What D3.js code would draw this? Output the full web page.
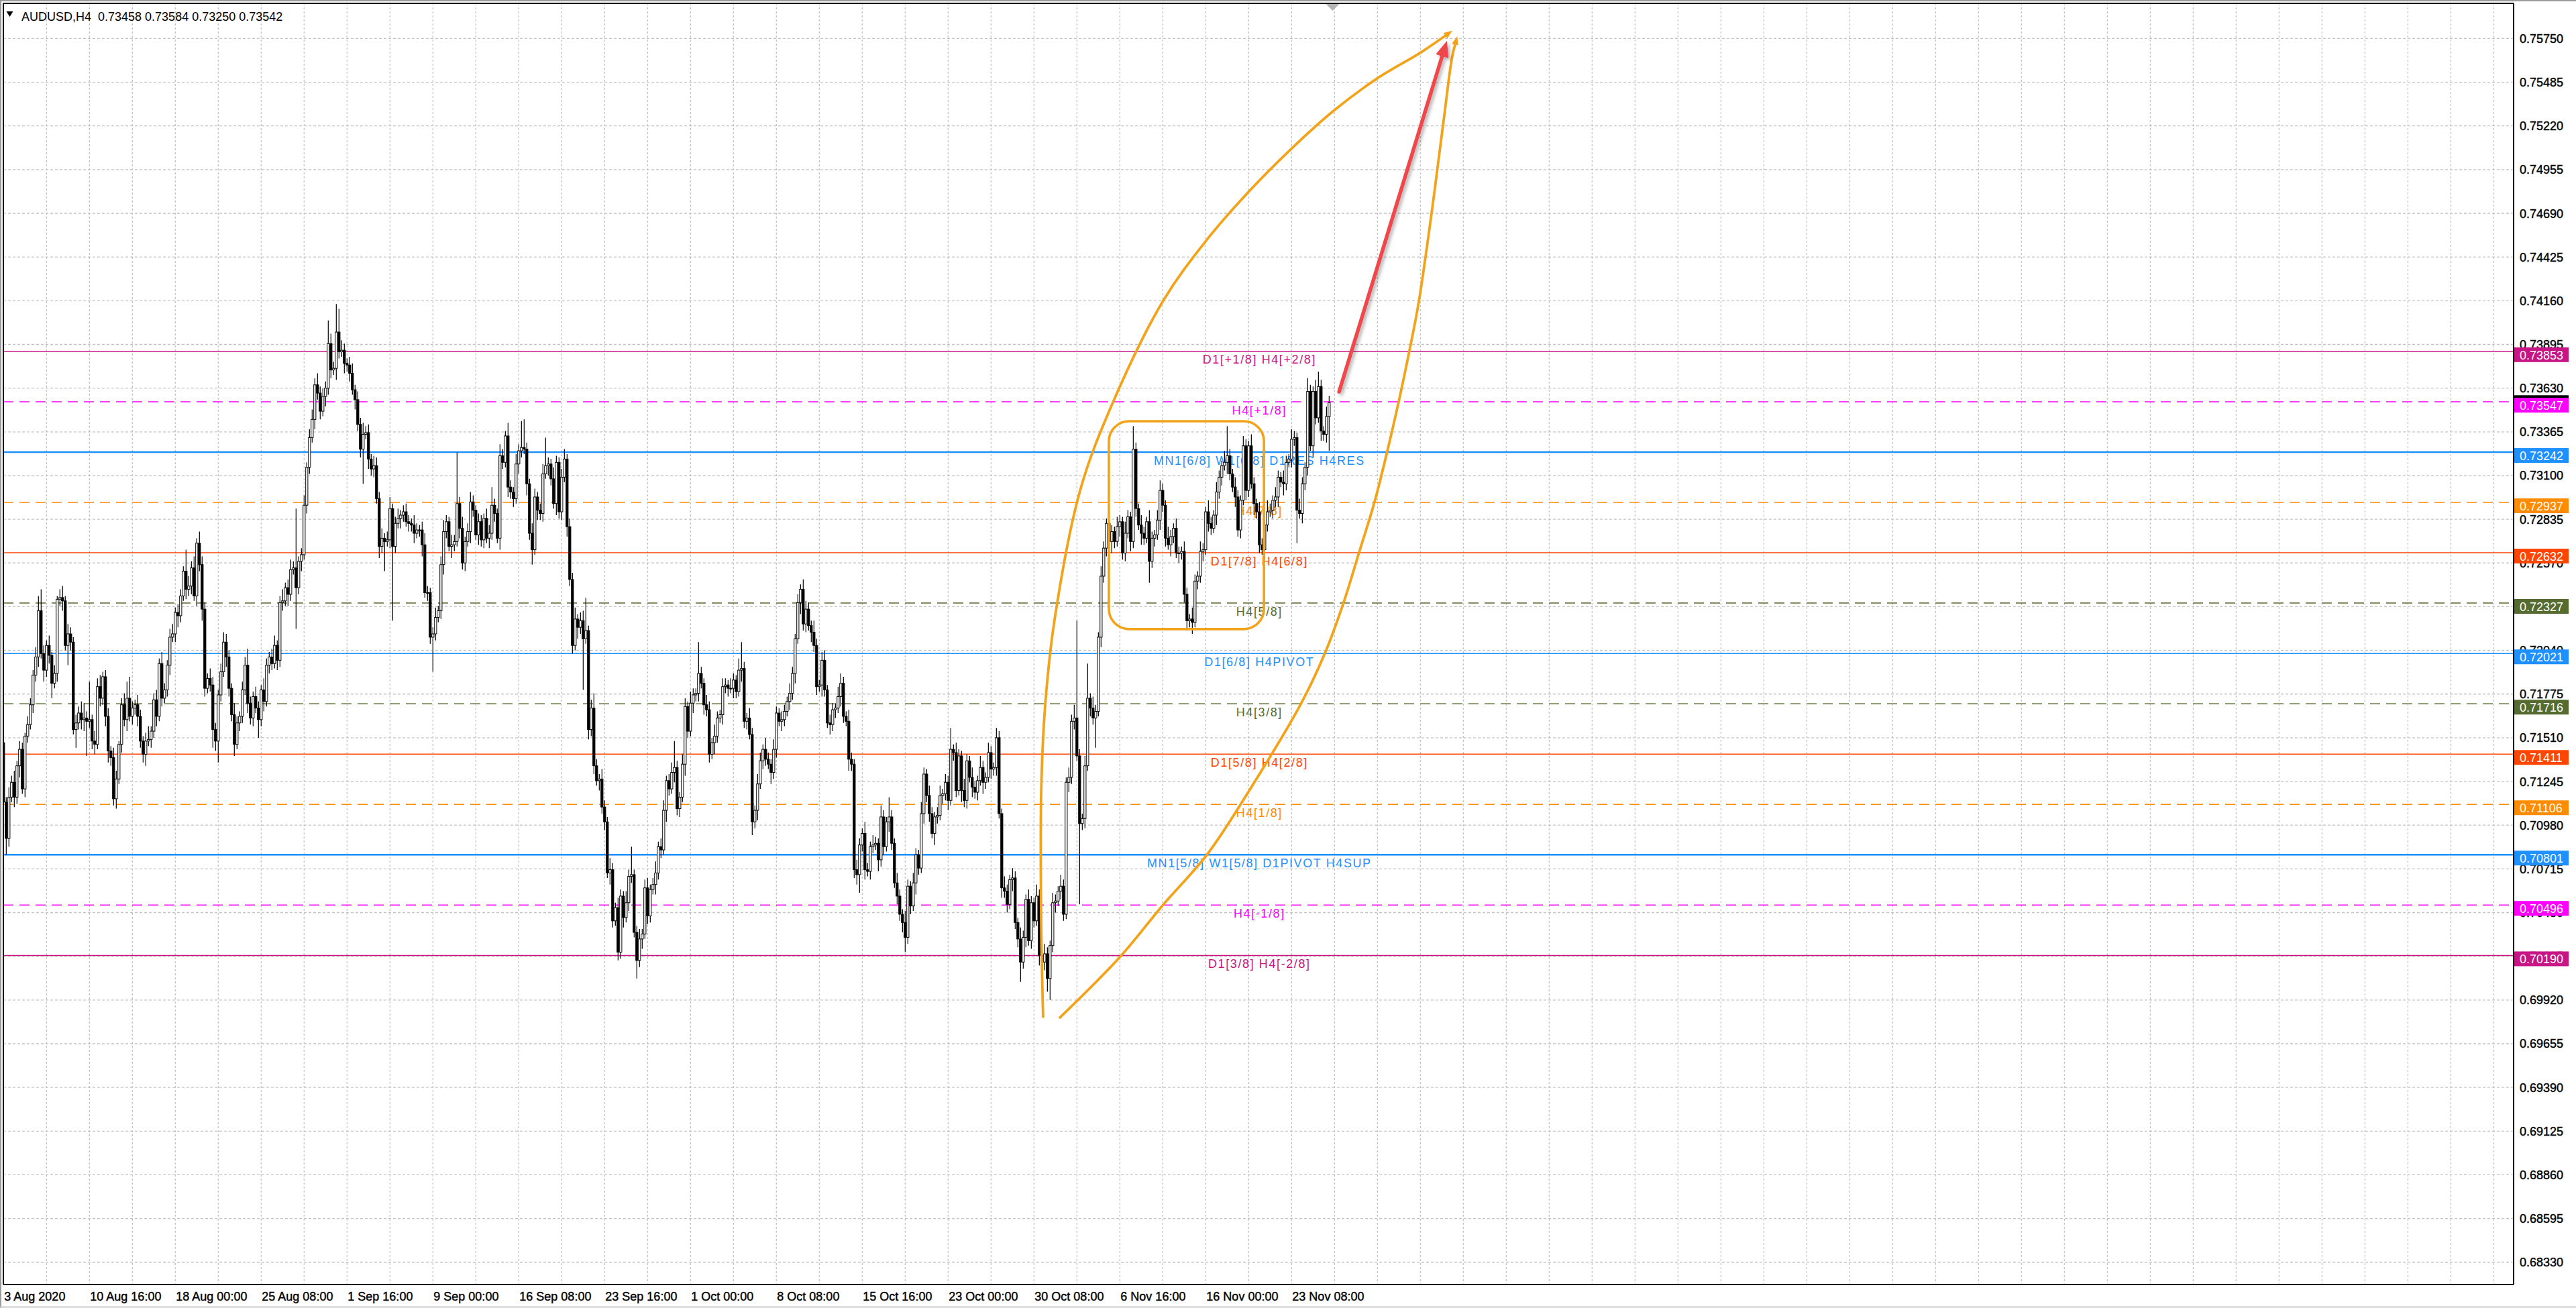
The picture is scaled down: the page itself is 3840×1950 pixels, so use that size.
<!DOCTYPE html>
<html>
<head>
<meta charset="utf-8">
<script src="https://cdnjs.cloudflare.com/ajax/libs/d3/7.8.5/d3.min.js"></script>
<style>
html,body{margin:0;padding:0;background:#fff;overflow:hidden}
svg{display:block}
text{font-family:"Liberation Sans",Arial,sans-serif}
</style>
</head>
<body>
<svg id="chart"></svg>
<script>
const W = 3840, H = 1950
const plot = {left:5, top:5, right:3747, bottom:1915}

const symbol = 'AUDUSD,H4'
const lastOHLC = ['0.73458','0.73584','0.73250','0.73542']

// H4 bars, 3 Aug 08:00 .. 25 Nov 16:00 ; open of a bar = previous close
const firstOpen = 0.7148
const close = [
	0.7112,0.7090,0.7115,0.7124,0.7115,0.7134,0.7144,0.7120,0.7152,0.7159,
	0.7171,0.7189,0.7200,0.7228,0.7202,0.7192,0.7207,0.7201,0.7184,0.7190,
	0.7235,0.7236,0.7234,0.7207,0.7214,0.7209,0.7156,0.7160,0.7166,0.7162,
	0.7163,0.7161,0.7162,0.7149,0.7147,0.7182,0.7175,0.7188,0.7164,0.7143,
	0.7139,0.7114,0.7126,0.7147,0.7171,0.7162,0.7175,0.7164,0.7169,0.7171,
	0.7164,0.7149,0.7141,0.7149,0.7150,0.7155,0.7174,0.7164,0.7196,0.7175,
	0.7180,0.7195,0.7212,0.7214,0.7227,0.7225,0.7237,0.7252,0.7241,0.7243,
	0.7254,0.7237,0.7269,0.7256,0.7229,0.7181,0.7187,0.7183,0.7156,0.7149,
	0.7177,0.7191,0.7209,0.7200,0.7181,0.7165,0.7147,0.7160,0.7164,0.7180,
	0.7195,0.7172,0.7163,0.7176,0.7169,0.7162,0.7180,0.7173,0.7195,0.7200,
	0.7196,0.7207,0.7198,0.7233,0.7234,0.7242,0.7238,0.7253,0.7254,0.7242,
	0.7258,0.7262,0.7292,0.7315,0.7333,0.7344,0.7365,0.7360,0.7349,0.7358,
	0.7363,0.7390,0.7374,0.7375,0.7397,0.7385,0.7386,0.7378,0.7377,0.7372,
	0.7362,0.7356,0.7341,0.7326,0.7335,0.7336,0.7320,0.7314,0.7316,0.7296,
	0.7267,0.7272,0.7270,0.7271,0.7290,0.7267,0.7281,0.7284,0.7286,0.7288,
	0.7282,0.7281,0.7280,0.7275,0.7277,0.7277,0.7268,0.7239,0.7239,0.7212,
	0.7214,0.7224,0.7228,0.7256,0.7276,0.7282,0.7267,0.7268,0.7270,0.7293,
	0.7278,0.7257,0.7270,0.7276,0.7294,0.7289,0.7274,0.7282,0.7271,0.7284,
	0.7272,0.7275,0.7292,0.7287,0.7272,0.7322,0.7318,0.7334,0.7303,0.7300,
	0.7296,0.7317,0.7325,0.7327,0.7326,0.7305,0.7275,0.7265,0.7297,0.7289,
	0.7287,0.7311,0.7316,0.7317,0.7308,0.7293,0.7318,0.7288,0.7309,0.7320,
	0.7279,0.7247,0.7207,0.7223,0.7218,0.7222,0.7211,0.7216,0.7156,0.7169,
	0.7134,0.7125,0.7126,0.7109,0.7100,0.7069,0.7071,0.7040,0.7048,0.7021,
	0.7055,0.7042,0.7051,0.7067,0.7068,0.7033,0.7016,0.7029,0.7032,0.7060,
	0.7043,0.7059,0.7062,0.7069,0.7085,0.7083,0.7107,0.7125,0.7120,0.7130,
	0.7133,0.7108,0.7115,0.7135,0.7170,0.7155,0.7172,0.7177,0.7178,0.7190,
	0.7184,0.7171,0.7168,0.7141,0.7148,0.7152,0.7163,0.7165,0.7182,0.7183,
	0.7181,0.7181,0.7186,0.7179,0.7192,0.7193,0.7161,0.7163,0.7153,0.7100,
	0.7107,0.7123,0.7137,0.7144,0.7138,0.7135,0.7130,0.7144,0.7166,0.7161,
	0.7162,0.7167,0.7173,0.7178,0.7190,0.7211,0.7233,0.7241,0.7220,0.7229,
	0.7219,0.7215,0.7207,0.7182,0.7183,0.7198,0.7180,0.7160,0.7159,0.7168,
	0.7169,0.7176,0.7184,0.7164,0.7161,0.7138,0.7135,0.7071,0.7068,0.7086,
	0.7093,0.7071,0.7070,0.7085,0.7086,0.7087,0.7077,0.7103,0.7085,0.7100,
	0.7103,0.7087,0.7063,0.7055,0.7044,0.7039,0.7030,0.7061,0.7049,0.7063,
	0.7080,0.7072,0.7105,0.7129,0.7116,0.7105,0.7093,0.7103,0.7104,0.7116,
	0.7117,0.7124,0.7113,0.7144,0.7142,0.7119,0.7140,0.7119,0.7113,0.7137,
	0.7127,0.7121,0.7118,0.7125,0.7133,0.7124,0.7127,0.7142,0.7132,0.7133,
	0.7151,0.7105,0.7060,0.7058,0.7050,0.7065,0.7066,0.7039,0.7029,0.7015,
	0.7030,0.7053,0.7028,0.7051,0.7040,0.7055,0.7019,0.7015,0.7020,0.7005,
	0.7025,0.7051,0.7052,0.7058,0.7061,0.7044,0.7124,0.7127,0.7161,0.7163,
	0.7140,0.7099,0.7102,0.7134,0.7175,0.7169,0.7163,0.7167,0.7212,0.7249,
	0.7266,0.7281,0.7270,0.7276,0.7270,0.7279,0.7282,0.7263,0.7275,0.7285,
	0.7270,0.7326,0.7290,0.7280,0.7275,0.7272,0.7282,0.7258,0.7272,0.7274,
	0.7283,0.7301,0.7292,0.7272,0.7268,0.7273,0.7278,0.7263,0.7263,0.7264,
	0.7238,0.7222,0.7223,0.7221,0.7246,0.7249,0.7264,0.7265,0.7288,0.7281,
	0.7278,0.7286,0.7300,0.7309,0.7316,0.7318,0.7322,0.7311,0.7303,0.7297,
	0.7277,0.7295,0.7328,0.7301,0.7328,0.7305,0.7293,0.7288,0.7268,0.7265,
	0.7280,0.7288,0.7289,0.7295,0.7297,0.7309,0.7306,0.7305,0.7318,0.7320,
	0.7332,0.7333,0.7289,0.7287,0.7305,0.7315,0.7361,0.7328,0.7361,0.7345,
	0.7364,0.7337,0.7335,0.73458,0.73542
]
// wick lengths in pips above / below the body
const wickUp = [
	4,3,6,4,7,3,5,4,2,5, 4,3,6,9,13,5,3,6,2,5, 2,5,7,3,6,4,3,5,4,7, 9,4,23,3,6,5,7,3,4,5,
	3,6,5,2,4,7,10,13,4,3, 6,4,3,5,8,3,4,6,3,7, 4,3,5,6,3,5,4,3,13,6, 4,7,3,7,5,4,3,6,5,4,
	3,5,6,5,4,3,7,4,3,5, 5,10,4,3,6,4,3,7,4,3, 5,6,3,4,7,3,5,6,4,36, 3,4,6,3,5,6,4,7,4,5,
	4,14,6,4,17,14,6,4,3,5, 6,3,5,4,7,4,5,3,6,5, 4,6,3,5,7,3,4,6,3,4, 5,4,3,6,4,3,5,7,4,3,
	4,6,3,5,7,4,3,6,4,31, 4,7,3,5,6,4,3,5,4,3, 6,5,11,4,3,7,4,3,8,4, 3,6,4,16,17,4,3,6,5,3,
	4,6,17,4,3,7,4,3,5,6, 3,5,4,7,3,5,6,20,3,5, 9,4,3,6,4,3,7,4,3,6, 4,3,7,4,17,3,4,6,3,5,
	6,3,4,7,3,5,6,3,4,6, 16,4,3,6,5,3,7,4,3,19, 4,3,6,5,3,7,4,3,5,4, 3,6,4,3,7,16,4,3,6,4,
	3,6,5,3,7,4,3,6,4,3, 5,4,3,6,4,3,5,3,6,5, 4,3,7,4,3,5,6,3,5,4, 3,6,6,4,3,7,4,3,6,4,
	3,7,4,3,6,4,3,7,4,3, 12,4,3,6,4,3,7,4,3,6, 4,3,7,4,3,6,4,3,5,6, 3,5,4,13,3,6,4,3,7,4,
	3,6,4,3,7,4,3,6,4,3, 6,4,3,7,4,3,6,4,3,7, 4,3,6,4,3,7,4,3,6,4, 3,6,4,3,7,4,3,6,4,8,
	59,4,3,6,21,3,7,4,3,6, 4,3,7,4,3,6,4,3,7,4, 3,14,4,3,6,4,3,7,4,3, 6,6,4,3,7,4,3,6,4,3,
	6,4,3,7,4,3,6,4,3,7, 4,3,6,4,3,7,18,4,3,6, 4,3,6,4,3,7,4,3,6,4, 3,7,4,3,6,4,3,7,4,3,
	6,4,3,7,4,3,8,4,3,7, 9,4,3,6,4.2
]
const wickDn = [
	4,10,5,3,6,4,7,3,5,4, 3,5,4,6,3,7,4,5,9,3, 5,4,6,3,12,5,3,11,4,6, 7,21,4,5,6,3,5,4,6,7,
	5,4,6,3,5,4,7,3,5,4, 6,4,5,7,3,5,4,6,3,5, 3,4,6,3,5,7,4,3,6,4, 5,3,6,4,7,5,3,4,11,6,
	13,4,3,6,5,4,7,3,5,4, 3,6,4,5,3,11,4,6,3,5, 4,3,6,4,5,3,7,4,3,25, 4,6,3,5,4,3,6,4,5,3,
	6,4,5,3,7,4,3,6,4,5, 3,6,4,5,21,3,6,4,5,3, 7,4,18,3,5,45,4,3,6,4, 3,5,4,6,3,4,7,3,5,4,
	21,4,3,5,6,4,3,7,4,3, 6,4,5,3,7,4,3,6,4,5, 3,6,4,5,3,7,4,3,6,4, 5,3,6,4,3,7,4,9,3,6,
	4,5,3,6,4,3,7,4,5,3, 6,4,5,3,7,4,31,3,6,4, 5,3,6,4,5,3,7,4,3,5, 4,6,3,5,4,3,11,4,6,3,
	5,4,3,6,4,5,3,7,4,3, 6,4,5,3,7,4,3,6,4,5, 3,6,4,5,3,7,4,3,6,4, 5,3,6,4,3,7,4,5,3,8,
	4,6,3,5,4,3,7,4,5,3, 6,4,3,5,4,6,3,7,4,5, 3,6,4,5,3,7,4,3,6,4, 5,3,6,4,3,7,4,5,6,11,
	4,6,3,5,4,3,7,4,5,3, 6,4,3,5,4,6,9,4,5,3, 7,4,3,6,4,5,3,7,4,3, 5,4,6,3,5,4,3,7,4,5,
	3,6,4,5,3,7,4,3,6,4, 5,3,6,4,5,3,7,4,5,12, 4,6,3,5,4,3,6,4,5,8, 13,4,6,3,5,4,3,6,4,5,
	3,49,4,6,3,5,4,18,3,6, 4,5,3,7,4,3,6,4,5,3, 6,4,5,3,7,4,3,13,4,5, 3,6,4,5,3,7,4,3,6,4,
	5,6,4,7,3,5,4,6,3,5, 4,3,6,4,5,3,7,4,3,6, 4,5,3,6,4,3,7,4,5,3, 6,4,3,5,4,6,3,7,4,3,
	5,4,20,3,6,4,5,3,7,4, 3,6,4,5,20.8
]

const timeLabels = ['3 Aug 2020','10 Aug 16:00','18 Aug 00:00','25 Aug 08:00','1 Sep 16:00',
	'9 Sep 00:00','16 Sep 08:00','23 Sep 16:00','1 Oct 00:00','8 Oct 08:00','15 Oct 16:00',
	'23 Oct 00:00','30 Oct 08:00','6 Nov 16:00','16 Nov 00:00','23 Nov 08:00']
const barsPerLabel = 32

const priceTicks = ['0.75750','0.75485','0.75220','0.74955','0.74690','0.74425','0.74160',
	'0.73895','0.73630','0.73365','0.73100','0.72835','0.72570','0.72305','0.72040','0.71775',
	'0.71510','0.71245','0.70980','0.70715','0.70450','0.70185','0.69920','0.69655','0.69390',
	'0.69125','0.68860','0.68595','0.68330']

const levelPrices = [0.73853,0.73547,0.73242,0.72937,0.72632,0.72327,0.72021,
	0.71716,0.71411,0.71106,0.70801,0.70496,0.70190]
const levelNames = ['D1[+1/8] H4[+2/8]','H4[+1/8]','MN1[6/8] W1[6/8] D1RES H4RES','H4[7/8]',
	'D1[7/8] H4[6/8]','H4[5/8]','D1[6/8] H4PIVOT','H4[3/8]','D1[5/8] H4[2/8]','H4[1/8]',
	'MN1[5/8] W1[5/8] D1PIVOT H4SUP','H4[-1/8]','D1[3/8] H4[-2/8]']
const levelKinds = ['vr','mg','bl','or','rd','ol','bl','ol','rd','or','bl','mg','vr']

// drawing objects: [bar, price]
const leftCurve = [[387.4,0.69818],[386.7,0.70371],[386.7,0.71192],[388.2,0.71713],[391.7,0.72229],
	[401.2,0.73010],[413.4,0.73543],[432.2,0.74161],[447.9,0.74519],[464.2,0.74824],[479.9,0.75081],
	[495.7,0.75312],[511.9,0.75508],[528.2,0.75666],[537.9,0.75774]]
const rightCurve = [[393.7,0.69814],[416.2,0.70184],[431.9,0.70493],[448.7,0.70806],[465.4,0.71221],
	[483.4,0.71713],[492.4,0.72022],[499.4,0.72331],[505.2,0.72636],[510.9,0.72939],[515.7,0.73250],
	[519.9,0.73547],[523.9,0.73856],[527.4,0.74153],[533.2,0.74816],[536.9,0.75284],[539.7,0.75626],
	[541.1,0.75725]]
const redArrow = [[497.7,0.73608],[536.4,0.75658]]
const rangeBox = {bars:[411.9,469.7], prices:[0.72169,0.73429]}
const labelBar = 468

const kindStyle = {
	vr:{color:'#c71585', dash:null},
	mg:{color:'#ff00ff', dash:'15,9'},
	bl:{color:'#1e90ff', dash:null},
	or:{color:'#ff8c00', dash:'15,9'},
	rd:{color:'#ff4500', dash:null},
	ol:{color:'#556b2f', dash:'15,9'}
}
const orange = '#f2a31a'
const pip = 0.0001

const bars = close.map((c,i)=>{
	const o = i ? close[i-1] : firstOpen
	const top = Math.max(o,c), bot = Math.min(o,c)
	return {i:i, o:o, c:c, h:top + wickUp[i]*pip, l:bot - wickDn[i]*pip}
})

const x = d3.scaleLinear().domain([0, 935.4]).range([plot.left + 0.3, plot.right])
const y = d3.scaleLinear().domain([0.681948, 0.759631]).range([plot.bottom, plot.top])

const svg = d3.select('#chart').attr('width',W).attr('height',H)
svg.append('rect').attr('width',W).attr('height',H).attr('fill','#fff')

const defs = svg.append('defs')
defs.append('clipPath').attr('id','plotClip').append('rect')
	.attr('x',plot.left).attr('y',plot.top)
	.attr('width',plot.right-plot.left).attr('height',plot.bottom-plot.top)
defs.append('marker').attr('id','headOrange')
	.attr('markerUnits','userSpaceOnUse').attr('markerWidth',14).attr('markerHeight',12)
	.attr('refX',3).attr('refY',5).attr('orient','auto')
	.append('path').attr('d','M0,0 L13,5 L0,10 z').attr('fill',orange)
defs.append('marker').attr('id','headRed')
	.attr('markerUnits','userSpaceOnUse').attr('markerWidth',26).attr('markerHeight',22)
	.attr('refX',4).attr('refY',10).attr('orient','auto')
	.append('path').attr('d','M0,0 L24,10 L0,20 z').attr('fill','#f0464c')
const shadow = defs.append('filter').attr('id','shadow')
	.attr('x','-20%').attr('y','-20%').attr('width','140%').attr('height','140%')
shadow.append('feDropShadow').attr('dx',3).attr('dy',3).attr('stdDeviation',2.5)
	.attr('flood-color','#000').attr('flood-opacity',0.3)

// window border
svg.append('line').attr('x1',0).attr('x2',W).attr('y1',1).attr('y2',1).attr('stroke','#9a9a9a').attr('stroke-width',2)
svg.append('line').attr('x1',1).attr('x2',1).attr('y1',0).attr('y2',H).attr('stroke','#9a9a9a').attr('stroke-width',2)
svg.append('line').attr('x1',0).attr('x2',W).attr('y1',1948.5).attr('y2',1948.5).attr('stroke','#c8c8c8').attr('stroke-width',2)

const chart = svg.append('g').attr('clip-path','url(#plotClip)')

// grid
chart.selectAll('.hgrid').data(priceTicks).enter().append('line')
	.classed('hgrid',true)
	.attr('x1',plot.left).attr('x2',plot.right)
	.attr('y1',d=>y(+d)).attr('y2',d=>y(+d))
	.attr('stroke','#c3c3c3').attr('stroke-width',1.3).attr('stroke-dasharray','4,3')
chart.selectAll('.vgrid').data(d3.range(16, 936, 16)).enter().append('line')
	.classed('vgrid',true)
	.attr('x1',d=>x(d)).attr('x2',d=>x(d))
	.attr('y1',plot.top).attr('y2',plot.bottom)
	.attr('stroke','#c3c3c3').attr('stroke-width',1.3).attr('stroke-dasharray','3,3')

// murrey levels
const levels = levelPrices.map((p,i)=>({p:p, name:levelNames[i], kind:levelKinds[i]}))
chart.selectAll('.lvl').data(levels).enter().append('line')
	.classed('lvl',true)
	.attr('x1',plot.left).attr('x2',plot.right)
	.attr('y1',d=>y(d.p)).attr('y2',d=>y(d.p))
	.attr('stroke',d=>kindStyle[d.kind].color)
	.attr('stroke-width',d=>d.name.startsWith('MN1') ? 2.4 : 1.4)
	.attr('stroke-dasharray',d=>kindStyle[d.kind].dash)
chart.selectAll('.lvlText').data(levels).enter().append('text')
	.classed('lvlText',true)
	.attr('x',x(labelBar)).attr('y',d=>y(d.p) + 18.5)
	.attr('text-anchor','middle')
	.attr('font-size',18).attr('letter-spacing',1.6)
	.attr('fill',d=>kindStyle[d.kind].color)
	.text(d=>d.name)

// candles
const candles = chart.append('g')
candles.selectAll('.wick').data(bars).enter().append('line')
	.classed('wick',true)
	.attr('x1',d=>x(d.i)).attr('x2',d=>x(d.i))
	.attr('y1',d=>y(d.h)).attr('y2',d=>y(d.l))
	.attr('stroke','#000').attr('stroke-width',1.2)
candles.selectAll('.body').data(bars).enter().append('rect')
	.classed('body',true)
	.attr('x',d=>x(d.i) - 1.6).attr('width',3.2)
	.attr('y',d=>y(Math.max(d.o,d.c)))
	.attr('height',d=>Math.max(1, y(Math.min(d.o,d.c)) - y(Math.max(d.o,d.c))))
	.attr('fill',d=>d.c >= d.o ? '#fff' : '#000')
	.attr('stroke','#000').attr('stroke-width',1)

// drawing objects
const line = d3.line().x(d=>x(d[0])).y(d=>y(d[1])).curve(d3.curveCatmullRom.alpha(0.5))
chart.append('rect')
	.attr('x',x(rangeBox.bars[0])).attr('y',y(rangeBox.prices[1]))
	.attr('width',x(rangeBox.bars[1]) - x(rangeBox.bars[0]))
	.attr('height',y(rangeBox.prices[0]) - y(rangeBox.prices[1]))
	.attr('rx',30).attr('ry',30)
	.attr('fill','none').attr('stroke',orange).attr('stroke-width',3.6)
chart.selectAll('.curve').data([leftCurve, rightCurve]).enter().append('path')
	.classed('curve',true)
	.attr('d',line)
	.attr('fill','none').attr('stroke',orange).attr('stroke-width',3.8)
	.attr('stroke-linecap','round')
	.attr('marker-end','url(#headOrange)')
chart.append('path')
	.attr('d',d3.line().x(d=>x(d[0])).y(d=>y(d[1]))(redArrow))
	.attr('fill','none').attr('stroke','#f0464c').attr('stroke-width',5.5)
	.attr('stroke-linecap','round')
	.attr('marker-end','url(#headRed)')
	.attr('filter','url(#shadow)')

// shift marker
const sx = x(close.length + 0.3)
svg.append('path').attr('d',`M${sx-10},${plot.top+1} L${sx+10},${plot.top+1} L${sx},${plot.top+11} z`)
	.attr('fill','#b4b4b4')

// frame
const frame = svg.append('g').attr('stroke','#000').attr('stroke-width',2)
frame.append('line').attr('x1',plot.left).attr('x2',plot.right).attr('y1',plot.top).attr('y2',plot.top)
frame.append('line').attr('x1',plot.left).attr('x2',plot.left).attr('y1',plot.top).attr('y2',plot.bottom)
frame.append('line').attr('x1',plot.right).attr('x2',plot.right).attr('y1',plot.top).attr('y2',plot.bottom)
frame.append('line').attr('x1',plot.left).attr('x2',plot.right).attr('y1',plot.bottom).attr('y2',plot.bottom)

// price axis
svg.selectAll('.ptick').data(priceTicks).enter().append('text')
	.classed('ptick',true)
	.attr('x',plot.right + 9).attr('y',d=>y(+d) + 6.5)
	.attr('font-size',18).attr('fill','#000')
	.attr('stroke','#000').attr('stroke-width',0.4)
	.text(d=>d)
// bid box (mostly hidden)
svg.append('rect').attr('x',plot.right + 1).attr('y',y(+lastOHLC[3]) - 11)
	.attr('width',81).attr('height',22).attr('fill','#000')
const tags = svg.selectAll('.tag').data(levels).enter().append('g')
	.classed('tag',true)
	.attr('transform',d=>`translate(${plot.right + 1},${y(d.p)})`)
tags.append('rect').attr('x',0).attr('y',-6).attr('width',81).attr('height',22)
	.attr('fill',d=>kindStyle[d.kind].color)
tags.append('text').attr('x',8).attr('y',12)
	.attr('font-size',18).attr('fill','#fff')
	.text(d=>d.p.toFixed(5))

// time axis
svg.selectAll('.ttick').data(timeLabels).enter().append('text')
	.classed('ttick',true)
	.attr('x',(d,i)=>x(i*barsPerLabel) + 1).attr('y',plot.bottom + 24)
	.attr('font-size',18).attr('fill','#000')
	.attr('stroke','#000').attr('stroke-width',0.4)
	.text(d=>d)

// header
svg.append('path').attr('d','M9.5,17 L19.5,17 L14.5,25 z').attr('fill','#000')
svg.append('text').attr('x',32).attr('y',30.5)
	.attr('font-size',18).attr('fill','#000')
	.style('white-space','pre')
	.text(`${symbol}  ${lastOHLC.join(' ')}`)
</script>
</body>
</html>
